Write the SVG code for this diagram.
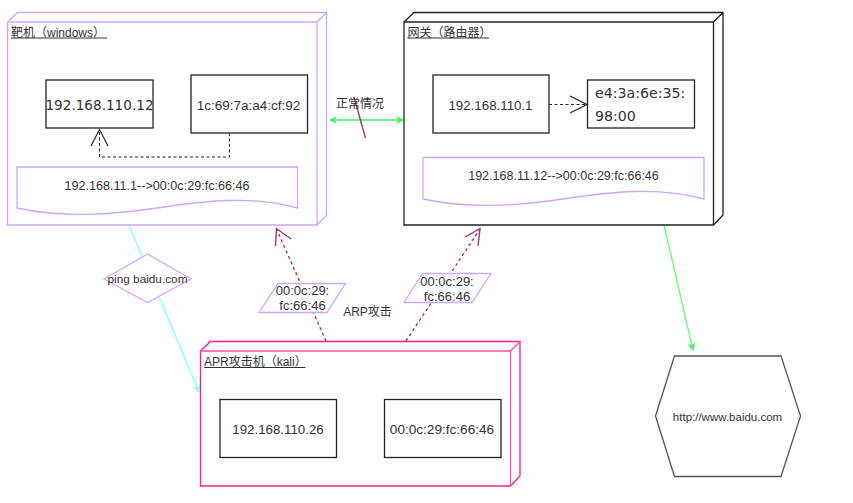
<svg xmlns="http://www.w3.org/2000/svg" width="853" height="503" viewBox="0 0 853 503">
<style>
text{font-family:"Liberation Sans","Noto Sans CJK SC",sans-serif;font-size:12px;fill:#333;text-anchor:middle}
.l{text-anchor:start}
.w{font-family:"DejaVu Sans","Noto Sans CJK SC",sans-serif}
.b{fill:#fff;stroke:#222;stroke-width:1.300}
.p{fill:#fff;stroke:#cfa6ff;stroke-width:1.300}
.u{stroke-width:1;fill:none}
.c{fill:none;stroke-width:1.400}
.rd{stroke:#b03070;stroke-dasharray:3 3}
</style>
<defs>
<marker id="g" viewBox="0 0 8 8" refX="7" refY="4" markerWidth="8" markerHeight="8" markerUnits="userSpaceOnUse" orient="auto-start-reverse"><path d="M0 0L8 4L0 8L2 4Z" fill="#44ee66"/></marker>
<marker id="cy" viewBox="0 0 8 8" refX="7" refY="4" markerWidth="8" markerHeight="8" markerUnits="userSpaceOnUse" orient="auto"><path d="M0 0L8 4L0 8L2 4Z" fill="#88ffff"/></marker>
</defs>
<rect width="853" height="503" fill="#fff"/>
<g id="connectors">
<path class="c" d="M129 225L199 392" stroke="#88ffff" marker-end="url(#cy)"/>
<path class="c" d="M664 225L693 350" stroke="#66ff77" marker-end="url(#g)"/>
<path class="c" d="M330 120H403" stroke="#44ee66" marker-start="url(#g)" marker-end="url(#g)"/>
<path class="c" d="M354 97L365.500 138" stroke="#b03070"/>
<path class="c rd" d="M326 341L276.500 229"/>
<path class="c" d="M275.500 246L276.500 228.500L291 239" stroke="#b03070"/>
<path class="c rd" d="M406 341L480 229"/>
<path class="c" d="M465 237L480 228.500L478 246" stroke="#b03070"/>
</g>
<g id="victim">
<path d="M7.500 22L17.500 12.500H326.500V215L317 225H7.500Z" fill="#fff" stroke="#cfa6ff" stroke-width="1.300"/>
<path d="M7.500 22H317V225M317 22L326.500 12.500" fill="none" stroke="#cfa6ff" stroke-width="1.300"/>
<text class="l" x="11" y="37">靶机（windows）</text>
<path class="u" d="M11 38H107" stroke="#333"/>
</g>
<g id="victim-ip"><rect class="b" x="46" y="80" width="107" height="48"/><text class="w" x="99.500" y="110" style="font-size:13.600px">192.168.110.12</text></g>
<g id="victim-mac"><rect class="b" x="191" y="75" width="116.500" height="58"/><text x="248.500" y="110" style="font-size:13.500px">1c:69:7a:a4:cf:92</text></g>
<g id="victim-arp"><path class="p" d="M17 167H297.500V208C251 195 204 201 157 208S64 218 17 208Z"/><text x="157" y="190" style="font-size:12.600px">192.168.11.1--&gt;00:0c:29:fc:66:46</text></g>
<g id="victim-link" fill="none" stroke="#222"><path stroke-dasharray="3 2.500" d="M229.500 133V157H99.500V129"/><path d="M91 146L99.500 129.500L108 146" stroke-width="1.200"/></g>
<g id="gateway">
<path d="M404 22L414 12.500H723V215L713.500 225H404Z" fill="#fff" stroke="#222" stroke-width="1.300"/>
<path d="M404 22H713.500V225M713.500 22L723 12.500" fill="none" stroke="#222" stroke-width="1.300"/>
<text class="l" x="407.500" y="37">网关（路由器）</text>
<path class="u" d="M407.500 38H489" stroke="#333"/>
</g>
<g id="gateway-ip"><rect class="b" x="433" y="75" width="116" height="58"/><text x="490.500" y="110" style="font-size:13.300px">192.168.110.1</text></g>
<g id="gateway-mac"><rect class="b" x="587.500" y="80" width="107" height="48"/><text class="w l" x="595" y="98" style="font-size:14.200px">e4:3a:6e:35:</text><text class="w l" x="595" y="121" style="font-size:14.200px">98:00</text></g>
<g id="gateway-arp"><path class="p" d="M423 157.500H704V199C657 186 610 192 563 199S470 209 423 199Z"/><text x="563.500" y="180" style="font-size:12.500px">192.168.11.12--&gt;00:0c:29:fc:66:46</text></g>
<g id="gateway-link" fill="none" stroke="#222"><path stroke-dasharray="3 2.500" d="M549 104.500H586"/><path d="M570 96L587 104.500L570 113" stroke-width="1.200"/></g>
<g id="attacker">
<path d="M200.500 351L210.500 341.500H520V476L510.500 486H200.500Z" fill="#fff" stroke="#ff1a8c" stroke-width="1.300"/>
<path d="M200.500 351H510.500V486M510.500 351L520 341.500" fill="none" stroke="#ff4da6" stroke-width="1.300"/>
<text class="l" x="204" y="366">APR攻击机（kali）</text>
<path class="u" d="M204 367.500H305.500" stroke="#333"/>
</g>
<g id="attacker-ip"><rect class="b" x="220" y="399.500" width="116.500" height="58"/><text x="278" y="434" style="font-size:13.300px">192.168.110.26</text></g>
<g id="attacker-mac"><rect class="b" x="384.500" y="399.500" width="116.500" height="58"/><text x="442" y="434" style="font-size:13.600px">00:0c:29:fc:66:46</text></g>
<g id="ping"><path class="p" d="M104 279L147.500 254L191 279L147.500 302.500Z"/><text x="147.500" y="283" style="font-size:11.800px">ping baidu.com</text></g>
<g id="mac-a"><path class="p" d="M259 312.500L278 283.500H345.500L327 312.500Z"/><text x="302.500" y="295" style="font-size:13px">00:0c:29:</text><text x="302.500" y="310" style="font-size:13px">fc:66:46</text></g>
<g id="mac-b"><path class="p" d="M404 302.500L422.500 273.500H491L472 302.500Z"/><text x="447" y="286" style="font-size:13px">00:0c:29:</text><text x="447" y="301" style="font-size:13px">fc:66:46</text></g>
<g id="baidu"><path d="M655.500 416L674.500 356H781L800.500 416L781 476.500H674.500Z" fill="#fff" stroke="#555" stroke-width="1.300"/><text x="727.500" y="421" style="font-size:11.500px">http://www.baidu.com</text></g>
<g id="labels"><text x="360" y="108">正常情况</text><text x="367.500" y="316">ARP攻击</text></g>
</svg>
